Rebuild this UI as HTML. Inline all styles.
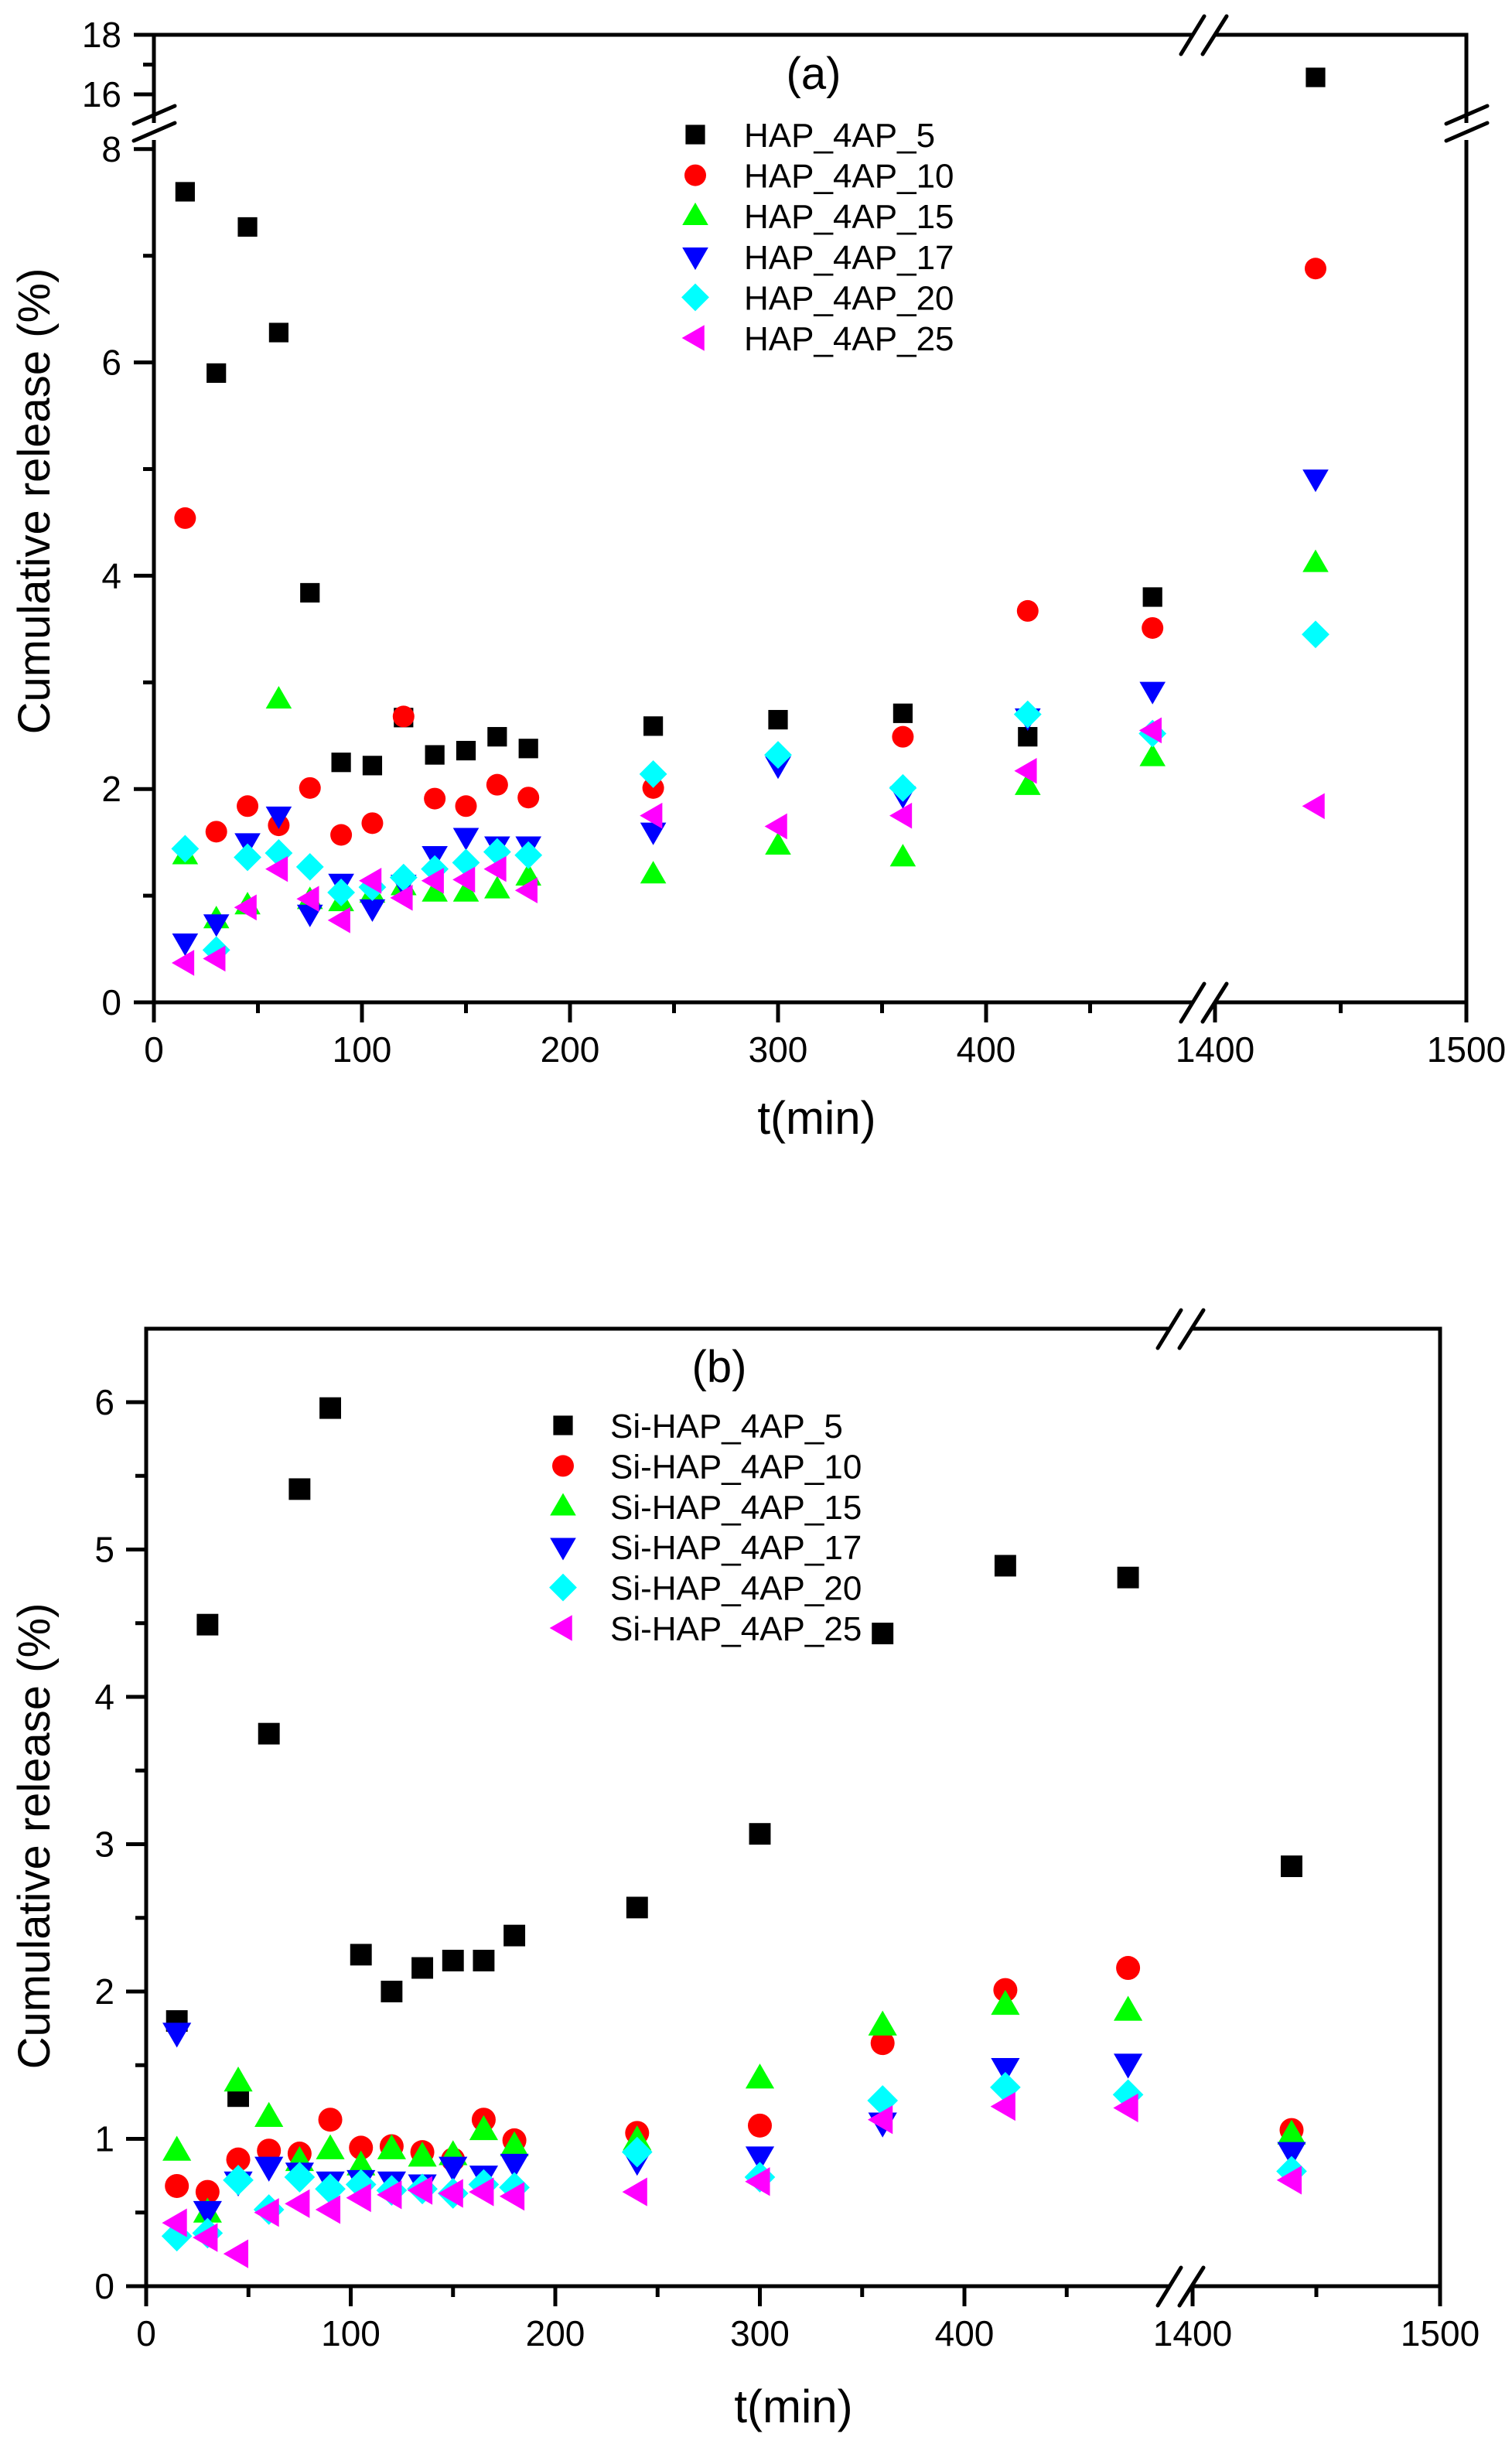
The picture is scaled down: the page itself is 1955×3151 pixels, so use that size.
<!DOCTYPE html>
<html><head><meta charset="utf-8"><style>
html,body{margin:0;padding:0;background:#fff}
svg{display:block}
text{font-family:"Liberation Sans",Arial,sans-serif;fill:#000}
</style></head><body>
<svg id="fig" width="1955" height="3151" viewBox="0 0 1955 3151" xmlns="http://www.w3.org/2000/svg">
<rect x="0" y="0" width="1955" height="3151" fill="#fff"/>
<g id="chartA"></g>
<g id="chartB"></g>
</svg>
<script>
// ---- data ----
const times = [15,30,45,60,75,90,105,120,135,150,165,180,240,300,360,420,480,1440];
const seriesNamesA = ["HAP_4AP_5","HAP_4AP_10","HAP_4AP_15","HAP_4AP_17","HAP_4AP_20","HAP_4AP_25"];
const seriesNamesB = ["Si-HAP_4AP_5","Si-HAP_4AP_10","Si-HAP_4AP_15","Si-HAP_4AP_17","Si-HAP_4AP_20","Si-HAP_4AP_25"];
const a5  = [7.60,5.90,7.27,6.28,3.84,2.25,2.22,2.67,2.32,2.36,2.49,2.38,2.59,2.65,2.71,2.49,3.80,16.57];
const a10 = [4.54,1.60,1.84,1.66,2.01,1.57,1.68,2.68,1.91,1.84,2.04,1.92,2.01,2.30,2.49,3.67,3.51,6.88];
const a15 = [1.38,0.78,0.91,2.84,0.96,0.94,1.02,1.09,1.03,1.03,1.06,1.18,1.20,1.47,1.36,2.03,2.30,4.12];
const a17 = [0.56,0.74,1.50,1.75,0.83,1.12,0.88,1.11,1.38,1.55,1.47,1.47,1.60,2.22,1.94,2.67,2.92,4.91];
const a20 = [1.44,0.49,1.36,1.40,1.27,1.03,1.08,1.17,1.25,1.31,1.41,1.38,2.14,2.32,2.01,2.70,2.52,3.45];
const a25 = [0.37,0.41,0.89,1.25,0.97,0.77,1.14,0.98,1.14,1.15,1.25,1.05,1.75,1.65,1.75,2.17,2.55,1.84];
const b5  = [1.80,4.49,1.29,3.75,5.41,5.96,2.25,2.00,2.16,2.21,2.21,2.38,2.57,3.07,4.43,4.89,4.81,2.85];
const b10 = [0.68,0.64,0.86,0.92,0.90,1.13,0.94,0.95,0.91,0.86,1.13,0.99,1.04,1.09,1.65,2.01,2.16,1.06];
const b15 = [0.92,0.50,1.39,1.15,0.85,0.93,0.82,0.93,0.88,0.89,1.06,0.95,0.99,1.41,1.77,1.91,1.87,1.03];
const b17 = [1.72,0.51,0.71,0.81,0.77,0.71,0.72,0.71,0.69,0.81,0.75,0.83,0.85,0.88,1.11,1.48,1.51,0.91];
const b20 = [0.34,0.36,0.72,0.52,0.74,0.66,0.69,0.65,0.66,0.63,0.69,0.67,0.91,0.74,1.26,1.35,1.30,0.78];
const b25 = [0.43,0.33,0.22,0.50,0.56,0.52,0.60,0.62,0.65,0.63,0.64,0.61,0.64,0.71,1.13,1.22,1.21,0.72];
const yTicksA = [0,2,4,6,8,16,18];
const yMinorA = [1,3,5,7,17];
const yTicksB = [0,1,2,3,4,5,6];
const yMinorB = [0.5,1.5,2.5,3.5,4.5,5.5];
const xTicks = [0,100,200,300,400,1400,1500];
const xMinor = [50,150,250,350,450,1450];

const NS = "http://www.w3.org/2000/svg";
const colors = ["#000000","#ff0000","#00ff00","#0000ff","#00ffff","#ff00ff"];
const shapes = ["square","circle","up","down","diamond","left"];

function mk(parent, tag, attrs){const e=document.createElementNS(NS,tag);for(const k in attrs)e.setAttribute(k,attrs[k]);parent.appendChild(e);return e;}

function marker(g, shape, cx, cy, s, color){
  let e;
  if(shape==="square"){e=mk(g,"rect",{x:cx-s*0.45,y:cy-s*0.45,width:s*0.9,height:s*0.9,fill:color});}
  else if(shape==="circle"){e=mk(g,"circle",{cx:cx,cy:cy,r:s*0.5,fill:color});}
  else if(shape==="up"){e=mk(g,"polygon",{points:`${cx},${cy-s*0.62} ${cx+s*0.6},${cy+s*0.42} ${cx-s*0.6},${cy+s*0.42}`,fill:color});}
  else if(shape==="down"){e=mk(g,"polygon",{points:`${cx},${cy+s*0.62} ${cx+s*0.6},${cy-s*0.42} ${cx-s*0.6},${cy-s*0.42}`,fill:color});}
  else if(shape==="diamond"){e=mk(g,"polygon",{points:`${cx},${cy-s*0.64} ${cx+s*0.64},${cy} ${cx},${cy+s*0.64} ${cx-s*0.64},${cy}`,fill:color});}
  else {e=mk(g,"polygon",{points:`${cx-s*0.62},${cy} ${cx+s*0.42},${cy-s*0.6} ${cx+s*0.42},${cy+s*0.6}`,fill:color});}
  return e;
}

function buildChart(g, cfg){
  const {L,R,T,B,xs,ys,seriesArr,names,yTicks,yMinor,label,labelPos,legX,legTextX,legY0,legDY,ms,xBreak,yBreak,xLabelY,yLabelRight,xTitlePos,yTitlePos} = cfg;
  const frame = mk(g,"rect",{x:L,y:T,width:R-L,height:B-T,fill:"none",stroke:"#000","stroke-width":5});
  
  
  [T,B].forEach((yy,i)=>{
    mk(g,"rect",{x:xBreak-14,y:yy-4,width:28,height:8,fill:"#fff"});
    const s1=mk(g,"line",{x1:xBreak-30,y1:yy+25,x2:xBreak,y2:yy-24,stroke:"#000","stroke-width":5,"stroke-linecap":"round"});
    
    
    mk(g,"line",{x1:xBreak-2,y1:yy+25,x2:xBreak+29,y2:yy-24,stroke:"#000","stroke-width":5,"stroke-linecap":"round"});
  });
  if(yBreak){
    [L,R].forEach(xx=>{
      mk(g,"rect",{x:xx-4,y:yBreak-11,width:8,height:22,fill:"#fff"});
      const s2=mk(g,"line",{x1:xx-26,y1:yBreak-10,x2:xx+27,y2:yBreak-33,stroke:"#000","stroke-width":5,"stroke-linecap":"round"});
      
      
      mk(g,"line",{x1:xx-26,y1:yBreak+12,x2:xx+27,y2:yBreak-11,stroke:"#000","stroke-width":5,"stroke-linecap":"round"});
    });
  }
  yTicks.forEach(v=>{
    const y=ys(v);
    mk(g,"line",{x1:L-26,y1:y,x2:L,y2:y,stroke:"#000","stroke-width":5});
    const t=mk(g,"text",{x:yLabelRight,y:y+16,"font-size":46,"text-anchor":"end"});
    t.textContent=String(v);
    
    
  });
  yMinor.forEach(v=>{const y=ys(v);mk(g,"line",{x1:L-14,y1:y,x2:L,y2:y,stroke:"#000","stroke-width":5});});
  xTicks.forEach(v=>{
    const x=xs(v);
    mk(g,"line",{x1:x,y1:B,x2:x,y2:B+26,stroke:"#000","stroke-width":5});
    const t=mk(g,"text",{x:x,y:xLabelY,"font-size":46,"text-anchor":"middle"});
    t.textContent=String(v);
    
    
  });
  xMinor.forEach(v=>{const x=xs(v);mk(g,"line",{x1:x,y1:B,x2:x,y2:B+14,stroke:"#000","stroke-width":5});});
  const xt=mk(g,"text",{x:xTitlePos[0],y:xTitlePos[1],"font-size":60,"text-anchor":"middle"});
  xt.textContent="t(min)";
  
  
  const yt=mk(g,"text",{x:0,y:0,"font-size":58,"text-anchor":"middle",transform:`translate(${yTitlePos[0]},${yTitlePos[1]}) rotate(-90)`});
  yt.textContent="Cumulative release (%)";
  
  
  const pl=mk(g,"text",{x:labelPos[0],y:labelPos[1],"font-size":58,"text-anchor":"middle"});
  pl.textContent=label;
  
  
  seriesArr.forEach((vals,si)=>{
    const sg=mk(g,"g",{});
    
    
    vals.forEach((v,i)=>{
      const m=marker(sg,shapes[si],xs(times[i]),ys(v),ms,colors[si]);
      
      
    });
  });
  names.forEach((n,si)=>{
    const ly=legY0+si*legDY;
    const lg=mk(g,"g",{});
    
    
    marker(lg,shapes[si],legX,ly,28,colors[si]);
    const t=mk(lg,"text",{x:legTextX,y:ly+16,"font-size":44});
    t.textContent=n;
  });
}

buildChart(document.getElementById('chartA'),{
  L:199,R:1896,T:45,B:1296,
  xs:t=>t<1000?199+2.69*t:1571+3.25*(t-1400),
  ys:v=>v<12?1296-137.9*v:122-38.5*(v-16),
  seriesArr:[a5,a10,a15,a17,a20,a25],names:seriesNamesA,
  yTicks:yTicksA,yMinor:yMinorA,label:"(a)",labelPos:[1052,115],
  legX:899,legTextX:962,legY0:174,legDY:52.6,ms:28,
  xBreak:1557,yBreak:170,xLabelY:1373,yLabelRight:157,
  xTitlePos:[1056,1466],yTitlePos:[64,648]
});
buildChart(document.getElementById('chartB'),{
  L:189,R:1862,T:1718,B:2956,
  xs:t=>t<1000?189+2.645*t:1542+3.2*(t-1400),
  ys:v=>2956-190.5*v,
  seriesArr:[b5,b10,b15,b17,b20,b25],names:seriesNamesB,
  yTicks:yTicksB,yMinor:yMinorB,label:"(b)",labelPos:[930,1787],
  legX:728,legTextX:789,legY0:1843,legDY:52.4,ms:31,
  xBreak:1527,yBreak:null,xLabelY:3033,yLabelRight:148,
  xTitlePos:[1026,3132],yTitlePos:[64,2374]
});
</script>
</body></html>
